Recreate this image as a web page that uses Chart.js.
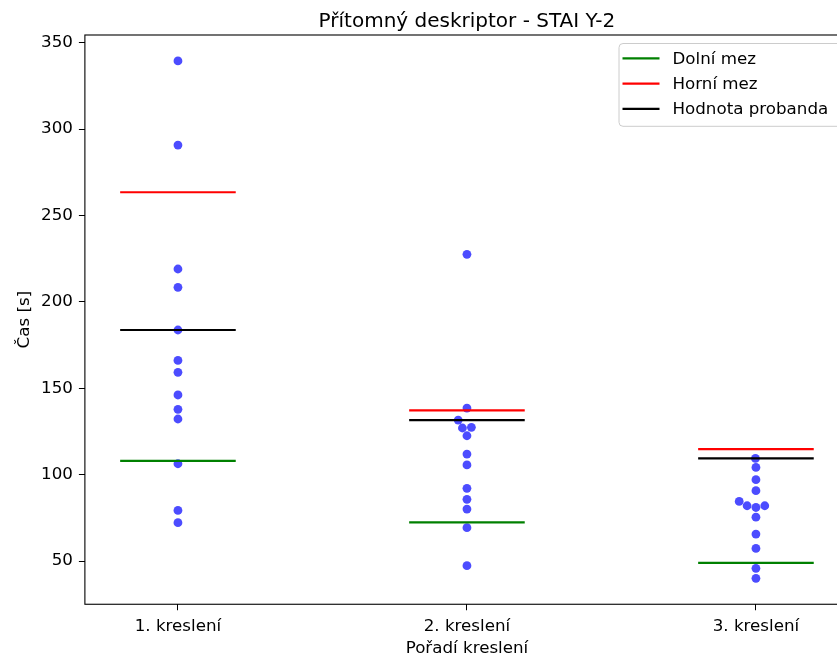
<!DOCTYPE html>
<html>
<head>
<meta charset="utf-8">
<script src="https://cdn.jsdelivr.net/npm/chart.js@4"></script>
<style>
  html, body { margin: 0; padding: 0; background: #fff; overflow: hidden; }
</style>
</head>
<body>
<canvas id="swarmChart" width="934" height="659"></canvas>
<script>
// Drawing order categories and measured times (s)
const categories = ['1. kreslení', '2. kreslení', '3. kreslení'];
const times1 = [339.4, 290.7, 219.0, 208.4, 183.7, 166.1, 159.2, 146.1, 137.8, 132.2, 106.3, 79.3, 72.2];
const times2 = [227.5, 138.5, 131.6, 127.4, 127.0, 122.5, 111.9, 105.6, 92.1, 85.7, 80.1, 69.3, 47.3];
const times3 = [109.4, 104.2, 97.1, 90.7, 84.5, 82.0, 81.0, 82.0, 75.4, 65.6, 57.3, 45.8, 40.0];

// Reference limits and the subject's own value per drawing
const lowerBound = [108.0, 72.4, 49.0];
const upperBound = [263.4, 137.2, 114.8];
const probandValue = [183.7, 131.6, 109.4];

const yTicks = [50, 100, 150, 200, 250, 300, 350];

const chartTitle = 'Přítomný deskriptor - STAI Y-2';
const groups = [times1, times2, times3];
const halfWidth = 0.2;   // half length of the limit segments, in category units
const dotSpacing = 9;    // min distance between swarm dots, px

Chart.defaults.font.family = "'DejaVu Sans', sans-serif";
Chart.defaults.font.size = 16.7;
Chart.defaults.color = '#000';

// one segment per category, broken by a null point
function segments(values) {
  const out = [];
  values.forEach((v, i) => {
    out.push({ x: i - halfWidth, y: v }, { x: i + halfWidth, y: v }, { x: i + 0.5, y: null });
  });
  return out;
}

// beeswarm: place dots by value, each at the free spot closest to the centre
function swarmOffsets(values, toPx, d) {
  const order = values.map((v, i) => i).sort((a, b) => values[a] - values[b]);
  const placed = [];
  const out = new Array(values.length);
  order.forEach(i => {
    const y = toPx(values[i]);
    const near = placed.filter(p => Math.abs(p.y - y) < d);
    const cands = [0];
    near.forEach(p => {
      const dx = Math.sqrt(d * d - (p.y - y) * (p.y - y));
      cands.push(p.x - dx, p.x + dx);
    });
    cands.sort((a, b) => Math.abs(a) - Math.abs(b));
    const x = cands.find(c => near.every(p => Math.hypot(p.x - c, p.y - y) >= d - 1e-6));
    placed.push({ x: x, y: y });
    out[i] = x;
  });
  return out;
}

// axes box plus a title centred over the plot area
const frame = {
  id: 'frame',
  afterDatasetsDraw(chart) {
    const { ctx, chartArea: a } = chart;
    ctx.save();
    ctx.strokeStyle = '#000';
    ctx.lineWidth = 1.1;
    ctx.strokeRect(a.left, a.top, a.right - a.left, a.bottom - a.top);
    ctx.font = "20px 'DejaVu Sans'";
    ctx.fillStyle = '#000';
    ctx.textAlign = 'center';
    ctx.textBaseline = 'alphabetic';
    ctx.fillText(chartTitle, (a.left + a.right) / 2, a.top - 8.5);
    ctx.restore();
  }
};

// legend box in the upper right corner of the plot
const lineLegend = {
  id: 'lineLegend',
  afterDraw(chart) {
    const { ctx, chartArea: a } = chart;
    const items = chart.data.datasets.filter(ds => ds.showLine);
    const left = 619, top = a.top + 8.5, right = a.right - 7, rowH = 25.3;
    const bottom = top + 82.8;
    ctx.save();
    ctx.fillStyle = 'rgba(255,255,255,0.8)';
    ctx.strokeStyle = '#cccccc';
    ctx.lineWidth = 1;
    ctx.beginPath();
    ctx.roundRect(left, top, right - left, bottom - top, 4);
    ctx.fill();
    ctx.stroke();
    ctx.font = "16.7px 'DejaVu Sans'";
    ctx.textBaseline = 'middle';
    ctx.fillStyle = '#000';
    items.forEach((ds, k) => {
      const y = top + 14.8 + k * rowH;
      ctx.strokeStyle = ds.borderColor;
      ctx.lineWidth = ds.borderWidth;
      ctx.beginPath();
      ctx.moveTo(left + 3.5, y);
      ctx.lineTo(left + 40.5, y);
      ctx.stroke();
      ctx.fillText(ds.label, left + 53.5, y + 1);
    });
    ctx.restore();
  }
};

const lineStyle = { type: 'scatter', showLine: true, spanGaps: false, pointRadius: 0, borderWidth: 2.2 };

const chart = new Chart(document.getElementById('swarmChart').getContext('2d'), {
  type: 'scatter',
  data: {
    datasets: [
      Object.assign({ label: 'Dolní mez', data: segments(lowerBound), borderColor: '#008000' }, lineStyle),
      Object.assign({ label: 'Horní mez', data: segments(upperBound), borderColor: '#ff0000' }, lineStyle),
      Object.assign({ label: 'Hodnota probanda', data: segments(probandValue), borderColor: '#000000' }, lineStyle),
      {
        label: 'Čas',
        data: groups.flatMap((vals, i) => vals.map(v => ({ x: i, y: v }))),
        backgroundColor: 'rgba(0,0,255,0.7)',
        borderWidth: 0,
        pointRadius: 4.4
      }
    ]
  },
  options: {
    responsive: false,
    animation: false,
    layout: { padding: { left: 11, right: 85, top: 35, bottom: 1.5 } },
    plugins: {
      legend: { display: false },
      tooltip: { enabled: false },
      title: { display: false }
    },
    scales: {
      x: {
        type: 'linear',
        min: -0.322,
        max: 2.322,
        afterBuildTicks: axis => { axis.ticks = categories.map((c, i) => ({ value: i })); },
        ticks: { callback: v => categories[v], padding: 6, maxRotation: 0 },
        grid: { drawOnChartArea: false, drawTicks: true, tickLength: 6, color: '#000' },
        border: { display: false },
        title: {
          display: true,
          text: 'Pořadí kreslení',
          font: { lineHeight: 1.0 },
          padding: { top: -1.5, bottom: 0 }
        }
      },
      y: {
        min: 25.0,
        max: 354.4,
        afterBuildTicks: axis => { axis.ticks = yTicks.map(v => ({ value: v })); },
        ticks: { padding: 6 },
        grid: { drawOnChartArea: false, drawTicks: true, tickLength: 6, color: '#000' },
        border: { display: false },
        title: { display: true, text: 'Čas [s]', padding: { top: 4, bottom: 0 } }
      }
    }
  },
  plugins: [frame, lineLegend]
});

// spread the dots sideways once the scales are known
const xs = chart.scales.x, ys = chart.scales.y;
const unit = xs.getPixelForValue(1) - xs.getPixelForValue(0);
const dots = [];
groups.forEach((vals, i) => {
  const off = swarmOffsets(vals, v => ys.getPixelForValue(v), dotSpacing);
  vals.forEach((v, k) => dots.push({ x: i + off[k] / unit, y: v }));
});
chart.data.datasets[3].data = dots;
chart.update();
</script>
</body>
</html>
